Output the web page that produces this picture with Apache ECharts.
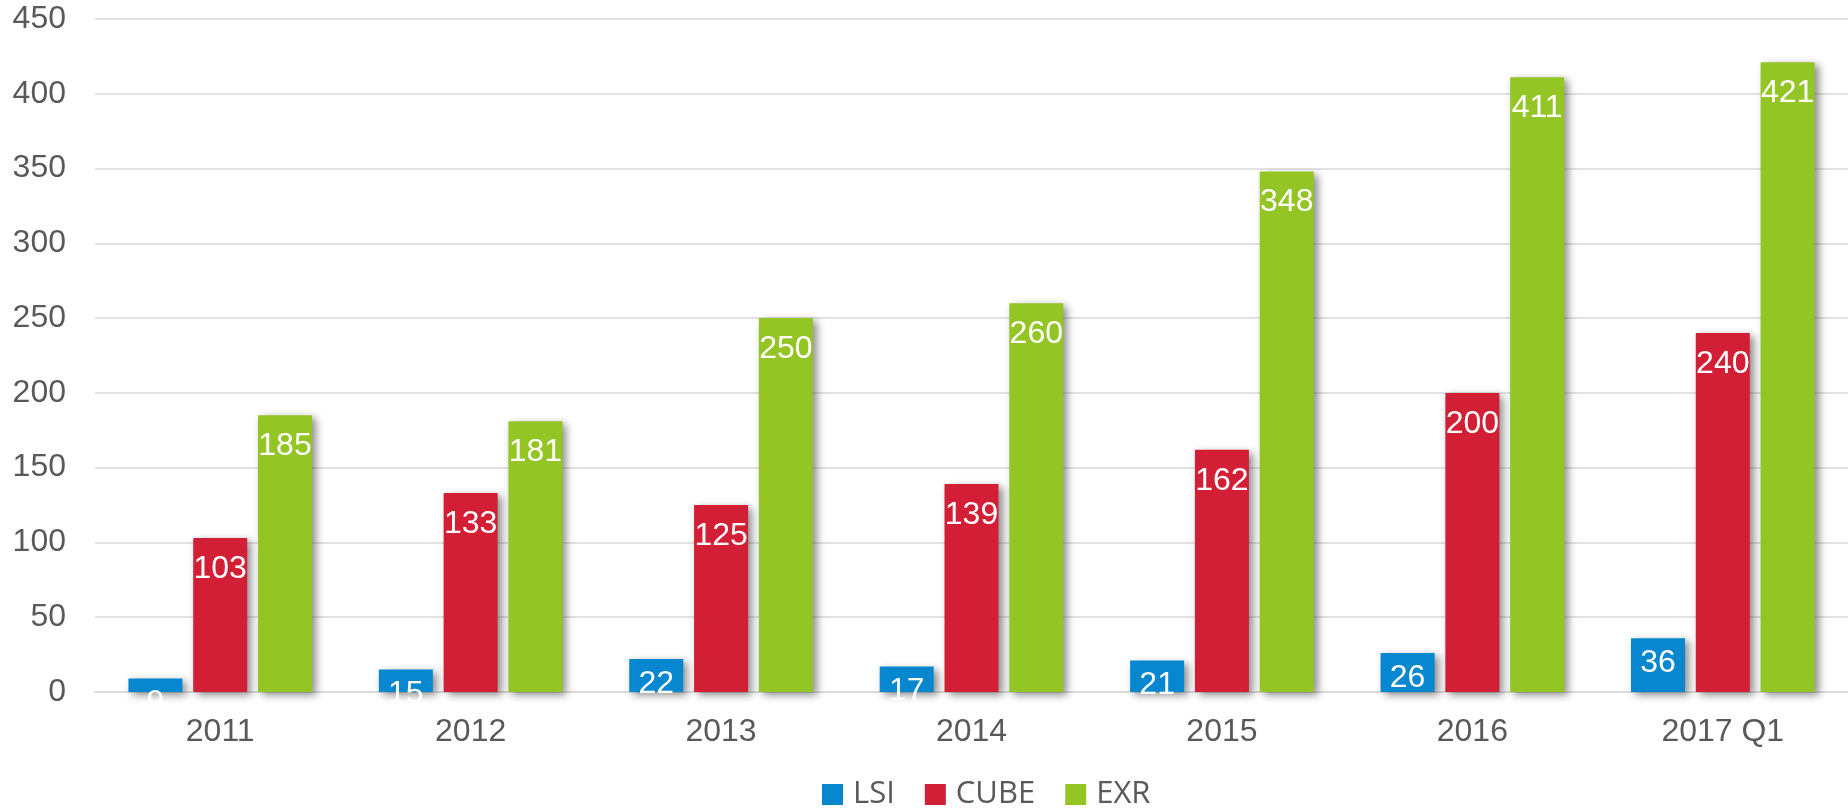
<!DOCTYPE html>
<html>
<head>
<meta charset="utf-8">
<script src="https://cdn.jsdelivr.net/npm/echarts@6/dist/echarts.min.js"></script>
<style>
  html, body { margin: 0; padding: 0; background: #fff; }
  #chart { width: 1848px; height: 808px; }
</style>
</head>
<body>
<div id="chart"></div>
<script>
  const years = ['2011', '2012', '2013', '2014', '2015', '2016', '2017 Q1']
  const lsi = [9, 15, 22, 17, 21, 26, 36]
  const cube = [103, 133, 125, 139, 162, 200, 240]
  const exr = [185, 181, 250, 260, 348, 411, 421]

  const numFont = 'Liberation Sans'

  function barSeries(name, data, color, labelDist) {
    return {
      name: name,
      type: 'bar',
      data: data,
      barWidth: 54,
      barGap: '20%',
      itemStyle: {
        color: color,
        shadowColor: 'rgba(0,0,0,0.45)',
        shadowBlur: 8,
        shadowOffsetX: 4,
        shadowOffsetY: 3
      },
      label: {
        show: true,
        position: 'insideTop',
        distance: labelDist,
        color: '#fff',
        fontFamily: numFont,
        fontSize: 32
      }
    }
  }

  const chart = echarts.init(document.getElementById('chart'))
  chart.setOption({
    animation: false,
    grid: { left: 95, right: 0, top: 19, bottom: 116 },
    legend: {
      left: 822,
      top: 779,
      padding: 0,
      itemWidth: 21,
      itemHeight: 21,
      itemGap: 30,
      icon: 'rect',
      textStyle: { color: '#595959', fontFamily: 'Open Sans', fontSize: 31, padding: [0, 0, 0, 5] },
      data: ['LSI', 'CUBE', 'EXR']
    },
    xAxis: {
      type: 'category',
      data: years,
      axisLine: { lineStyle: { color: '#d9d9d9', width: 1.5 } },
      axisTick: { show: false },
      axisLabel: { color: '#595959', fontFamily: numFont, fontSize: 32, margin: 24 }
    },
    yAxis: {
      type: 'value',
      min: 0,
      max: 450,
      interval: 50,
      axisLine: { show: false },
      axisTick: { show: false },
      splitLine: { lineStyle: { color: '#d9d9d9', width: 1.5 } },
      axisLabel: { color: '#595959', fontFamily: numFont, fontSize: 32, margin: 29 }
    },
    series: [
      barSeries('LSI', lsi, '#0787cf', 9),
      barSeries('CUBE', cube, '#d31f36', 15),
      barSeries('EXR', exr, '#93c525', 15)
    ]
  })
</script>
</body>
</html>
